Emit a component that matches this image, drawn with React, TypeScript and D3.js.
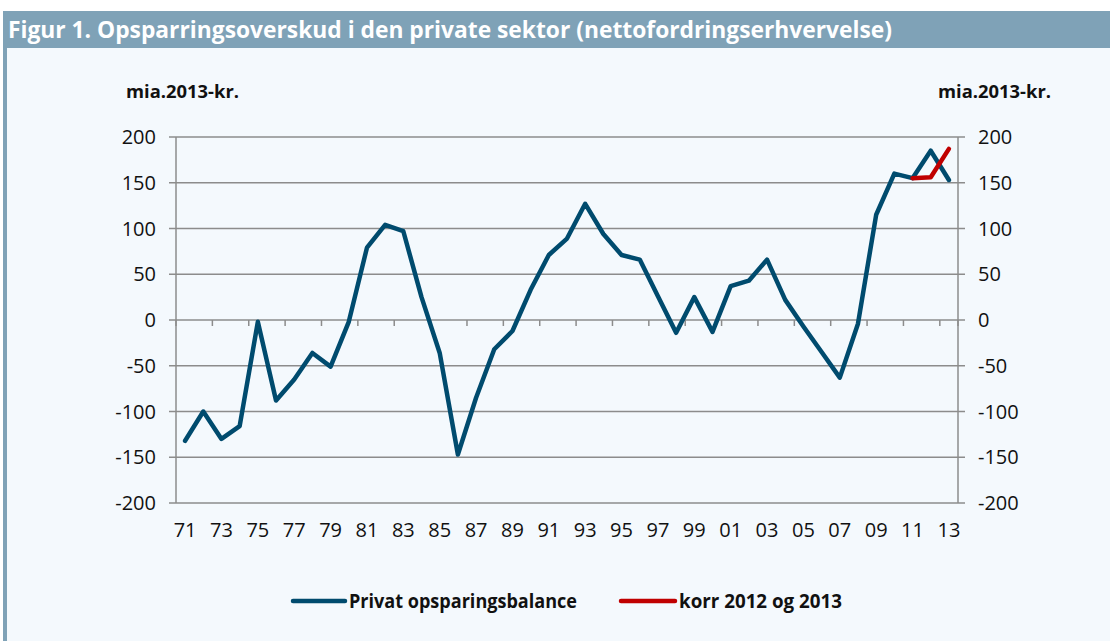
import * as d3 from 'd3'

const years = [
  '71', '72', '73', '74', '75', '76', '77', '78', '79', '80',
  '81', '82', '83', '84', '85', '86', '87', '88', '89', '90',
  '91', '92', '93', '94', '95', '96', '97', '98', '99', '00',
  '01', '02', '03', '04', '05', '06', '07', '08', '09', '10',
  '11', '12', '13',
]

// Privat opsparingsbalance, mia. 2013-kr.
const privat = [
  -132, -100, -130, -116, -2, -88, -65, -36, -51, -2,
  79, 104, 97, 25, -36, -147, -85, -32, -12, 33,
  71, 89, 127, 94, 71, 66, 26, -14, 25, -13,
  37, 43, 66, 22, -7, -35, -63, -4, 115, 160,
  155, 185, 153,
]

// korr 2012 og 2013
const korrYears = ['11', '12', '13']
const korr = [155, 156, 187]

const yTicks = [-200, -150, -100, -50, 0, 50, 100, 150, 200]
const xTickLabels = ['71', '73', '75', '77', '79', '81', '83', '85', '87', '89', '91', '93', '95', '97', '99', '01', '03', '05', '07', '09', '11', '13']

const W = 1110
const H = 641
const left = 176
const right = 958
const top = 137
const bottom = 503

const navy = '#004b6e'
const red = '#c00000'
const grid = '#8c8c8c'
const font = '"Open Sans", "Noto Sans", sans-serif'

const App = () => {
  const x = d3.scaleBand<string>().domain(years).range([left, right]).padding(0)
  const y = d3.scaleLinear().domain([-200, 200]).range([bottom, top])
  const cx = (d: string) => (x(d) as number) + x.bandwidth() / 2

  const line = d3.line<[string, number]>()
    .x(d => cx(d[0]))
    .y(d => y(d[1]))

  const mainPath = line(years.map((d, i) => [d, privat[i]]))
  const korrPath = line(korrYears.map((d, i) => [d, korr[i]]))

  // tick marks between every second category
  const xTickPos = years.filter((_, i) => i % 2 === 0).map(d => x(d) as number).concat([right])

  return (
    <svg width={W} height={H} style={{ position: 'absolute', left: 0, top: 0 }} fontFamily={font}>
      <rect x={0} y={0} width={W} height={H} fill='#ffffff' />
      <rect x={3} y={11} width={W - 3} height={H - 11} fill='#f4f9fd' />
      <rect x={3} y={11} width={4} height={H - 11} fill='#7fa2b7' />
      <rect x={3} y={11} width={W - 3} height={37} fill='#7fa2b7' />
      <text x={8} y={38} fill='#ffffff' fontSize={23} fontWeight={700} textLength={884} lengthAdjust='spacingAndGlyphs'>
        Figur 1. Opsparringsoverskud i den private sektor (nettofordringserhvervelse)
      </text>

      <text x={126} y={98} fontSize={17} fontWeight={700} fill='#111' textLength={113} lengthAdjust='spacingAndGlyphs'>mia.2013-kr.</text>
      <text x={1051} y={98} fontSize={17} fontWeight={700} fill='#111' textAnchor='end' textLength={113} lengthAdjust='spacingAndGlyphs'>mia.2013-kr.</text>

      {yTicks.map(t => (
        <g key={t}>
          <line x1={left - 7} x2={right + 7} y1={y(t)} y2={y(t)} stroke={grid} strokeWidth={1.5} />
          <text x={156} y={y(t)} dy='0.36em' fontSize={20} textAnchor='end' fill='#111'>{t}</text>
          <text x={978} y={y(t)} dy='0.36em' fontSize={20} textAnchor='start' fill='#111'>{t}</text>
        </g>
      ))}
      <line x1={left} x2={left} y1={top} y2={bottom} stroke={grid} strokeWidth={1.5} />
      <line x1={right} x2={right} y1={top} y2={bottom} stroke={grid} strokeWidth={1.5} />
      {xTickPos.map((p, i) => (
        <line key={i} x1={p} x2={p} y1={y(0)} y2={y(0) + 6} stroke={grid} strokeWidth={1.5} />
      ))}
      {xTickLabels.map(d => (
        <text key={d} x={cx(d)} y={537} fontSize={20} textAnchor='middle' fill='#111'>{d}</text>
      ))}

      <path d={mainPath as string} fill='none' stroke={navy} strokeWidth={4.5} strokeLinejoin='round' strokeLinecap='round' />
      <path d={korrPath as string} fill='none' stroke={red} strokeWidth={4.5} strokeLinejoin='round' strokeLinecap='round' />

      <g>
        <line x1={293} x2={345} y1={601} y2={601} stroke={navy} strokeWidth={4.5} strokeLinecap='round' />
        <text x={349} y={608} fontSize={20} fontWeight={700} fill='#111' textLength={228} lengthAdjust='spacingAndGlyphs'>Privat opsparingsbalance</text>
        <line x1={621} x2={675} y1={601} y2={601} stroke={red} strokeWidth={4.5} strokeLinecap='round' />
        <text x={679} y={608} fontSize={20} fontWeight={700} fill='#111' textLength={163} lengthAdjust='spacingAndGlyphs'>korr 2012 og 2013</text>
      </g>
    </svg>
  )
}

export default App
